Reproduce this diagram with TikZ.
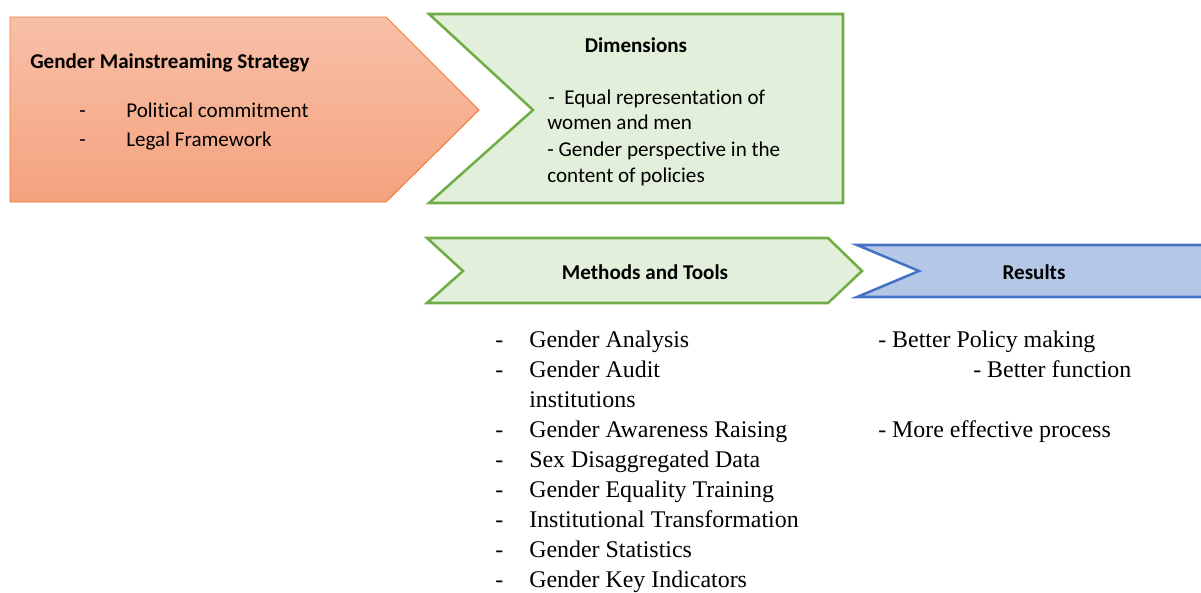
\documentclass[tikz,border=0pt]{standalone}
\usepackage{fontspec}
\setmainfont{Liberation Serif}
\newfontfamily\calibri[Ligatures=NoCommon]{Carlito}
\usepackage{xcolor}

\definecolor{orangeline}{HTML}{ED7D31}
\definecolor{orangetop}{HTML}{F8C0A8}
\definecolor{orangebot}{HTML}{F4A27E}
\definecolor{greenfill}{HTML}{E2EFDA}
\definecolor{greenline}{HTML}{70AD47}
\definecolor{bluefill}{HTML}{B4C7E7}
\definecolor{blueline}{HTML}{4472C4}

\begin{document}
\begin{tikzpicture}[x=0.025cm, y=-0.025cm,
    greenarrow/.style={fill=greenfill, draw=greenline, line width=1.8pt, line join=miter},
    bluearrow/.style={fill=bluefill, draw=blueline, line width=1.8pt, line join=miter},
    txt/.style={anchor=base west, inner sep=0pt, font=\calibri\fontsize{15}{18}\selectfont},
    txtbold/.style={inner sep=0pt, font=\calibri\bfseries\fontsize{15}{18}\selectfont},
    item/.style={anchor=base west, inner sep=0pt, font=\fontsize{17}{21}\selectfont}]
                \useasboundingbox (0,0) rectangle (1201,592);
                \clip (0,0) rectangle (1201,592);
                % arrows
                \path[draw=orangeline, line width=0.7pt, top color=orangetop, bottom color=orangebot]
                    (10,17) -- (386,17) -- (479,110) -- (386,202) -- (10,202) -- cycle;
                \path[greenarrow] (429,14) -- (843,14) -- (843,203) -- (429,203) -- (533,110) -- cycle;
                \path[greenarrow] (427,238) -- (828,238) -- (862,271) -- (828,303) -- (427,303) -- (463,271) -- cycle;
                \path[bluearrow] (857,245) -- (1210,245) -- (1210,297) -- (857,297) -- (919,271) -- cycle;
                % strategy
                \node[txtbold, anchor=base west](gms) at (30,68){Gender Mainstreaming Strategy};
                \node[txt](d1) at (79,117){-};
                \node[txt](pc) at (126,117){Political commitment};
                \node[txt](d2) at (79,146){-};
                \node[txt](lf) at (126,146){Legal Framework};
                % dimensions
                \node[txtbold, anchor=base](dim) at (636,52){Dimensions};
                \node[txt](er1) at (548,104){-\ \ Equal representation of};
                \node[txt](er2) at (547,129){women and men};
                \node[txt](gp1) at (547,156){- Gender perspective in the};
                \node[txt](gp2) at (547,182){content of policies};
                % methods and results
                \node[txtbold, anchor=base](mt) at (645,279){Methods and Tools};
                \node[txtbold, anchor=base](res) at (1034,279){Results};
                \node[item](m1d) at (495,347){-};
                \node[item](m1) at (529,347){Gender Analysis};
                \node[item](m2d) at (495,377){-};
                \node[item](m2) at (529,377){Gender Audit};
                \node[item](m2b) at (529,407){institutions};
                \node[item](m3d) at (495,437){-};
                \node[item](m3) at (529,437){Gender Awareness Raising};
                \node[item](m4d) at (495,467){-};
                \node[item](m4) at (529,467){Sex Disaggregated Data};
                \node[item](m5d) at (495,497){-};
                \node[item](m5) at (529,497){Gender Equality Training};
                \node[item](m6d) at (495,527){-};
                \node[item](m6) at (529,527){Institutional Transformation};
                \node[item](m7d) at (495,557){-};
                \node[item](m7) at (529,557){Gender Statistics};
                \node[item](m8d) at (495,587){-};
                \node[item](m8) at (529,587){Gender Key Indicators};
                \node[item](r1) at (878,347){- Better Policy making};
                \node[item](r2) at (973,377){- Better function};
                \node[item](r3) at (878,437){- More effective process};
                \end{tikzpicture}
\end{document}
